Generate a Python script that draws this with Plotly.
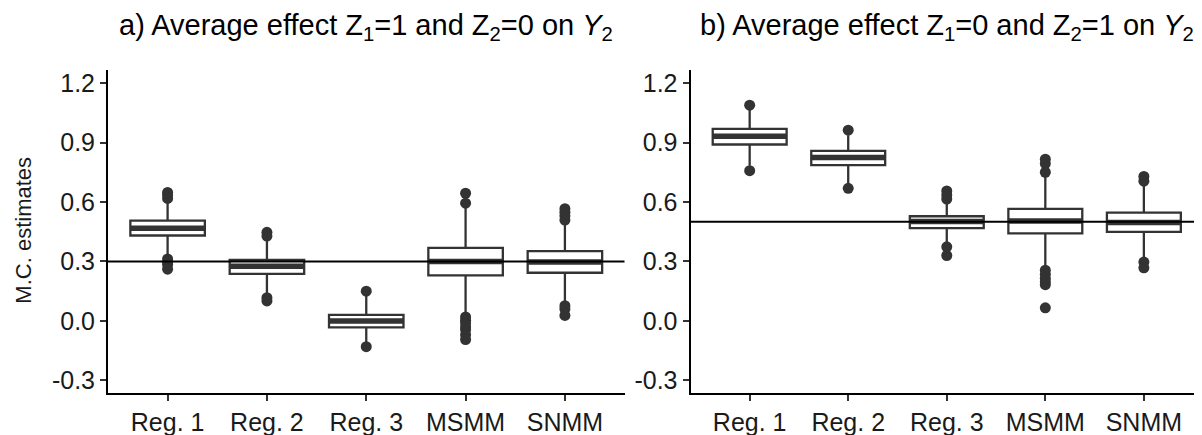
import plotly.graph_objects as go
from plotly.subplots import make_subplots

categories = ["Reg. 1", "Reg. 2", "Reg. 3", "MSMM", "SNMM"]
y_ticks = [-0.3, 0.0, 0.3, 0.6, 0.9, 1.2]
y_tick_labels = ["-0.3", "0.0", "0.3", "0.6", "0.9", "1.2"]

titles = [
    "a) Average effect Z<sub>1</sub>=1 and Z<sub>2</sub>=0 on <i>Y</i><sub>2</sub>",
    "b) Average effect Z<sub>1</sub>=0 and Z<sub>2</sub>=1 on <i>Y</i><sub>2</sub>",
]
true_values = [0.3, 0.5]

# Panel a
a_q1 = [0.431, 0.237, -0.032, 0.230, 0.243]
a_med = [0.468, 0.276, 0.000, 0.300, 0.297]
a_q3 = [0.506, 0.308, 0.031, 0.369, 0.352]
a_lo = [0.321, 0.134, -0.108, 0.036, 0.101]
a_hi = [0.607, 0.411, 0.126, 0.574, 0.501]
a_out = [
    [0.648, 0.635, 0.618, 0.313, 0.297, 0.285, 0.261],
    [0.447, 0.428, 0.117, 0.101],
    [0.150, -0.130],
    [0.644, 0.594, 0.020, 0.003, -0.011, -0.030, -0.045, -0.070, -0.094],
    [0.566, 0.548, 0.530, 0.509, 0.077, 0.060, 0.028],
]

# Panel b
b_q1 = [0.890, 0.786, 0.468, 0.442, 0.449]
b_med = [0.931, 0.824, 0.501, 0.504, 0.496]
b_q3 = [0.969, 0.858, 0.528, 0.565, 0.546]
b_lo = [0.783, 0.693, 0.395, 0.281, 0.321]
b_hi = [1.064, 0.936, 0.599, 0.729, 0.680]
b_out = [
    [1.088, 0.758],
    [0.962, 0.669],
    [0.656, 0.635, 0.615, 0.374, 0.330],
    [0.816, 0.794, 0.750, 0.256, 0.235, 0.215, 0.198, 0.183, 0.066],
    [0.729, 0.705, 0.297, 0.268],
]

panels = [
    (a_q1, a_med, a_q3, a_lo, a_hi, a_out),
    (b_q1, b_med, b_q3, b_lo, b_hi, b_out),
]

FONT = "Liberation Sans, Arial, sans-serif"
DARK = "#333333"

fig = make_subplots(rows=1, cols=2, horizontal_spacing=0.06)

for i, (q1, med, q3, lo, hi, out) in enumerate(panels):
    col = i + 1
    fig.add_trace(go.Box(
        x=categories, q1=q1, median=med, q3=q3, lowerfence=lo, upperfence=hi,
        fillcolor="white", line=dict(color=DARK, width=2.3), width=0.75,
        whiskerwidth=0, boxpoints=False, showlegend=False,
    ), row=1, col=col)
    # thick median band
    fig.add_trace(go.Box(
        x=categories, q1=med, median=med, q3=med, lowerfence=med, upperfence=med,
        fillcolor="rgba(0,0,0,0)", line=dict(color=DARK, width=5.5), width=0.75,
        whiskerwidth=0, boxpoints=False, showlegend=False,
    ), row=1, col=col)
    ox, oy = [], []
    for c, vals in zip(categories, out):
        ox += [c] * len(vals)
        oy += vals
    fig.add_trace(go.Scatter(
        x=ox, y=oy, mode="markers",
        marker=dict(color=DARK, size=11), showlegend=False,
    ), row=1, col=col)

    xa = "x" if i == 0 else "x2"
    ya = "y" if i == 0 else "y2"
    fig.add_shape(type="line", xref=f"{xa} domain", yref=ya, x0=0, x1=1,
                  y0=true_values[i], y1=true_values[i],
                  line=dict(color="black", width=2))

axis_common = dict(showline=True, linecolor="black", linewidth=2, showgrid=False,
                   zeroline=False, ticks="outside", ticklen=6, tickwidth=2,
                   tickcolor=DARK)

for i in range(2):
    fig.update_xaxes(categoryorder="array", categoryarray=categories,
                     range=[-0.6, 4.6], tickfont=dict(family=FONT, size=25, color="#1a1a1a"),
                     **axis_common, row=1, col=i + 1)
    fig.update_yaxes(range=[-0.3635, 1.2657], tickvals=y_ticks, ticktext=y_tick_labels,
                     tickfont=dict(family=FONT, size=25, color="#1a1a1a"),
                     **axis_common, row=1, col=i + 1)

fig.update_layout(
    xaxis=dict(domain=[0, 0.4717]),
    xaxis2=dict(domain=[0.532, 1]),
)

doms = [(0, 0.4717), (0.532, 1)]
for i, t in enumerate(titles):
    fig.add_annotation(text=t, xref="paper", yref="paper",
                       x=(doms[i][0] + doms[i][1]) / 2, y=1.132,
                       xanchor="center", yanchor="middle", showarrow=False,
                       font=dict(family=FONT, size=29, color="black"))

fig.add_annotation(text="M.C. estimates", xref="paper", yref="paper",
                   x=-0.078, y=(395 - 227) / 333, textangle=-90,
                   xanchor="center", yanchor="middle", showarrow=False,
                   font=dict(family=FONT, size=22, color="#1a1a1a"))

fig.update_layout(
    width=1202, height=435,
    margin=dict(l=100, r=7, t=62, b=40),
    paper_bgcolor="white", plot_bgcolor="white",
    boxmode="overlay",
    font=dict(family=FONT),
)

fig.write_html("out.html")
